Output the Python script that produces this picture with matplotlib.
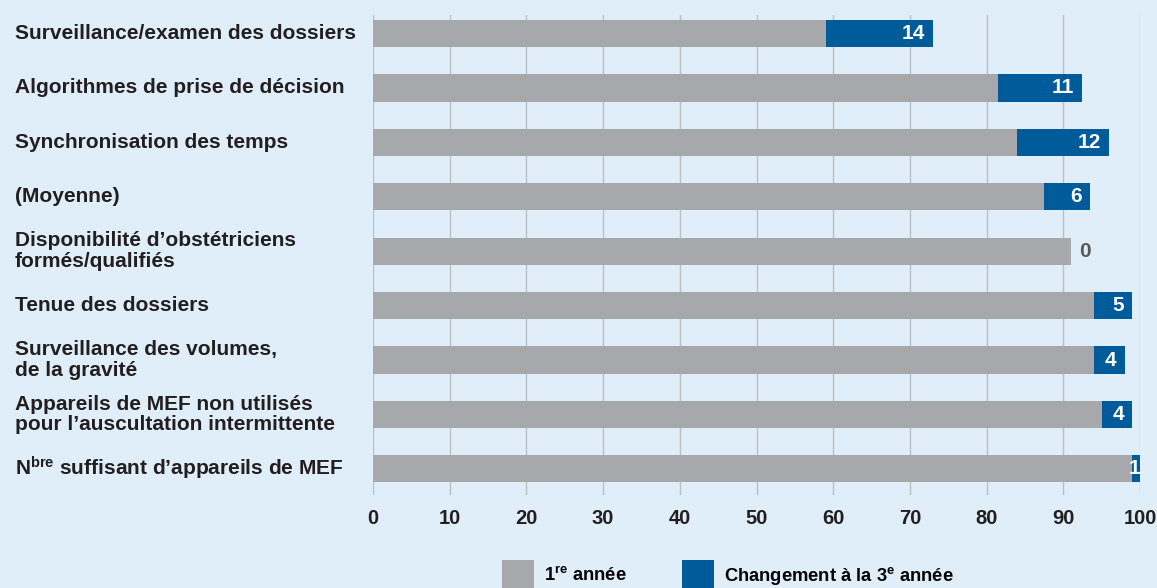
import matplotlib
matplotlib.use("Agg")
import matplotlib.pyplot as plt
from matplotlib.patches import Patch
from matplotlib.transforms import blended_transform_factory

# Data
categories = [
    "Surveillance/examen des dossiers",
    "Algorithmes de prise de décision",
    "Synchronisation des temps",
    "(Moyenne)",
    "Disponibilité d’obstétriciens\nformés/qualifiés",
    "Tenue des dossiers",
    "Surveillance des volumes,\nde la gravité",
    "Appareils de MEF non utilisés\npour l’auscultation intermittente",
    r"N$^{\mathbf{bre}}$ suffisant d’appareils de MEF",
]
first_year = [59, 81.5, 84, 87.5, 91, 94, 94, 95, 99]
change_year3 = [14, 11, 12, 6, 0, 5, 4, 4, 1]
x_ticks = [0, 10, 20, 30, 40, 50, 60, 70, 80, 90, 100]
series_names = [r"1$^{\mathbf{re}}$ année", r"Changement à la 3$^{\mathbf{e}}$ année"]

BG = "#DFEEF9"
GREY = "#A7A8AB"
BLUE = "#005B9A"
TXT = "#231F20"

plt.rcParams["font.family"] = ["Liberation Sans", "DejaVu Sans"]
plt.rcParams["font.weight"] = "bold"
plt.rcParams["mathtext.fontset"] = "custom"
plt.rcParams["mathtext.rm"] = "Liberation Sans:bold"
plt.rcParams["mathtext.bf"] = "Liberation Sans:bold"
plt.rcParams["mathtext.it"] = "Liberation Sans:bold"

W, H = 1157, 588
fig = plt.figure(figsize=(W / 100, H / 100), dpi=100, facecolor=BG)
left, right, top, bottom = 373, 1140, 15, 495
ax = fig.add_axes([left / W, 1 - bottom / H, (right - left) / W, (bottom - top) / H])
ax.set_facecolor(BG)

y = list(range(len(categories)))
ax.barh(y, first_year, height=0.5, color=GREY, zorder=2)
ax.barh(y, change_year3, left=first_year, height=0.5, color=BLUE, zorder=2)

for yi, base, ch in zip(y, first_year, change_year3):
    end = base + ch
    if ch == 0:
        ax.annotate(f"{ch}", (end, yi), xytext=(6, 0), textcoords="offset points",
                    ha="left", va="center", fontsize=15, fontweight="bold",
                    color="#58595B", zorder=3)
    elif ch < 3:
        ax.annotate(f"{ch}", (end, yi), xytext=(0, 0), textcoords="offset points",
                    ha="right", va="center", fontsize=15, fontweight="bold",
                    color="white", zorder=3)
    else:
        ax.annotate(f"{ch}", (end, yi), xytext=(-6, 0), textcoords="offset points",
                    ha="right", va="center", fontsize=15, fontweight="bold",
                    color="white", zorder=3)

ax.set_xlim(0, 100)
ax.set_ylim(len(categories) - 1 + 0.48, -0.34)
ax.set_xticks(x_ticks)
ax.set_xticklabels([str(t) for t in x_ticks], fontsize=14.5, fontweight="bold", color=TXT)
ax.tick_params(axis="x", length=0, pad=10)
ax.set_yticks([])
ax.grid(axis="x", color="#BDBFC1", linewidth=1.0, zorder=1)
ax.set_axisbelow(True)
for s in ax.spines.values():
    s.set_visible(False)

# Category labels, left aligned at the figure margin
label_tf = blended_transform_factory(fig.transFigure, ax.transData)
for yi, cat in zip(y, categories):
    ax.text(15 / W, yi, cat, transform=label_tf,
            ha="left", va="center", fontsize=15, fontweight="bold", color=TXT,
            linespacing=1.12)

handles = [Patch(facecolor=GREY, edgecolor="none"), Patch(facecolor=BLUE, edgecolor="none")]
fig.legend(handles, series_names, loc="upper left", bbox_to_anchor=(493 / W, 1 - 551 / H),
           ncol=2, frameon=False, handlelength=1.75, handleheight=2.1,
           handletextpad=0.55, columnspacing=3.0, borderpad=0.0,
           prop={"weight": "bold", "size": 13.2})

fig.savefig("out.png", dpi=100, facecolor=BG)
